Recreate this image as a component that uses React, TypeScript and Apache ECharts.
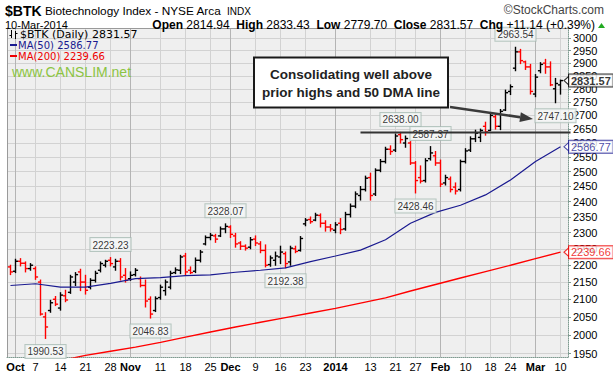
import React, { useEffect, useRef } from 'react';
import * as echarts from 'echarts';

const dates: string[] = [
  '2013-09-30', '2013-10-01', '2013-10-02', '2013-10-03', '2013-10-04', '2013-10-07', '2013-10-08', '2013-10-09', '2013-10-10', '2013-10-11',
  '2013-10-14', '2013-10-15', '2013-10-16', '2013-10-17', '2013-10-18', '2013-10-21', '2013-10-22', '2013-10-23', '2013-10-24', '2013-10-25',
  '2013-10-28', '2013-10-29', '2013-10-30', '2013-10-31', '2013-11-01', '2013-11-04', '2013-11-05', '2013-11-06', '2013-11-07', '2013-11-08',
  '2013-11-11', '2013-11-12', '2013-11-13', '2013-11-14', '2013-11-15', '2013-11-18', '2013-11-19', '2013-11-20', '2013-11-21', '2013-11-22',
  '2013-11-25', '2013-11-26', '2013-11-27', '2013-11-29', '2013-12-02', '2013-12-03', '2013-12-04', '2013-12-05', '2013-12-06', '2013-12-09',
  '2013-12-10', '2013-12-11', '2013-12-12', '2013-12-13', '2013-12-16', '2013-12-17', '2013-12-18', '2013-12-19', '2013-12-20', '2013-12-23',
  '2013-12-24', '2013-12-26', '2013-12-27', '2013-12-30', '2013-12-31', '2014-01-02', '2014-01-03', '2014-01-06', '2014-01-07', '2014-01-08',
  '2014-01-09', '2014-01-10', '2014-01-13', '2014-01-14', '2014-01-15', '2014-01-16', '2014-01-17', '2014-01-21', '2014-01-22', '2014-01-23',
  '2014-01-24', '2014-01-27', '2014-01-28', '2014-01-29', '2014-01-30', '2014-01-31', '2014-02-03', '2014-02-04', '2014-02-05', '2014-02-06',
  '2014-02-07', '2014-02-10', '2014-02-11', '2014-02-12', '2014-02-13', '2014-02-14', '2014-02-18', '2014-02-19', '2014-02-20', '2014-02-21',
  '2014-02-24', '2014-02-25', '2014-02-26', '2014-02-27', '2014-02-28', '2014-03-03', '2014-03-04', '2014-03-05', '2014-03-06', '2014-03-07',
  '2014-03-10',
];

const opens: number[] = [
  2195, 2182, 2212, 2206, 2190, 2190, 2150, 2050, 2068, 2100,
  2075, 2110, 2120, 2150, 2180, 2150, 2135, 2155, 2185, 2200,
  2215, 2195, 2212, 2170, 2160, 2172, 2160, 2140, 2100, 2068,
  2105, 2125, 2135, 2178, 2185, 2228, 2185, 2182, 2215, 2265,
  2285, 2290, 2290, 2312, 2318, 2290, 2268, 2258, 2255, 2280,
  2265, 2245, 2202, 2215, 2225, 2235, 2210, 2250, 2245, 2328,
  2342, 2340, 2355, 2330, 2318, 2308, 2330, 2312, 2358, 2385,
  2420, 2440, 2480, 2425, 2505, 2535, 2578, 2575, 2630, 2600,
  2600, 2530, 2480, 2470, 2545, 2555, 2530, 2462, 2475, 2448,
  2440, 2535, 2575, 2615, 2620, 2660, 2645, 2695, 2660, 2720,
  2790, 2880, 2945, 2905, 2885, 2780, 2870, 2900, 2885, 2800,
  2814.94,
];
const highs: number[] = [
  2200, 2218, 2220, 2210, 2205, 2195, 2156, 2062, 2097, 2108,
  2119, 2126, 2170, 2178, 2188, 2170, 2160, 2182, 2210, 2215,
  2223.23, 2218, 2220, 2190, 2180, 2190, 2165, 2156, 2107, 2107,
  2141, 2156, 2182, 2192, 2230, 2236, 2195, 2222, 2245, 2290,
  2298, 2295, 2318, 2328.07, 2322, 2298, 2272, 2262, 2285, 2290,
  2272, 2262, 2228, 2240, 2258, 2240, 2258, 2258, 2288, 2345,
  2350, 2362, 2360, 2338, 2326, 2332, 2345, 2365, 2392, 2432,
  2450, 2485, 2495, 2510, 2542, 2585, 2590, 2632, 2638.0, 2625,
  2605, 2535, 2520, 2545, 2587.37, 2570, 2540, 2488, 2482, 2462,
  2540, 2580, 2622, 2646, 2650, 2675, 2705, 2702, 2722, 2795,
  2815, 2963.54, 2955, 2908, 2895, 2855, 2902, 2915, 2905, 2840,
  2833.43,
];
const lows: number[] = [
  2172, 2178, 2198, 2180, 2185, 2158, 2055, 1990.53, 2063, 2082,
  2069, 2093, 2117, 2140, 2125, 2115, 2130, 2150, 2180, 2195,
  2198, 2185, 2156, 2150, 2155, 2168, 2136, 2078, 2046.83, 2065,
  2100, 2112, 2130, 2175, 2175, 2170, 2175, 2178, 2210, 2262,
  2278, 2270, 2288, 2300, 2285, 2255, 2248, 2246, 2250, 2260,
  2238, 2195, 2197, 2200, 2205, 2192.38, 2200, 2238, 2243, 2322,
  2330, 2338, 2318, 2305, 2305, 2300, 2297, 2308, 2350, 2380,
  2405, 2435, 2405, 2420, 2500, 2530, 2560, 2570, 2600, 2585,
  2525, 2428.46, 2462, 2465, 2540, 2522, 2450, 2455, 2432, 2425,
  2435, 2530, 2570, 2605, 2605, 2628, 2645, 2650, 2648, 2718,
  2778, 2870, 2898, 2875, 2780, 2770, 2862, 2860, 2812, 2747.10,
  2779.70,
];
const closes: number[] = [
  2180, 2212, 2206, 2190, 2200, 2165, 2058, 2022, 2090, 2086,
  2112, 2098, 2165, 2172, 2150, 2126, 2155, 2176, 2205, 2212,
  2205, 2212, 2165, 2155, 2170, 2185, 2140, 2095, 2058, 2102,
  2135, 2150, 2176, 2186, 2225, 2180, 2178, 2215, 2240, 2285,
  2292, 2280, 2312, 2320, 2295, 2265, 2258, 2252, 2278, 2268,
  2245, 2200, 2222, 2228, 2240, 2205, 2252, 2242, 2282, 2340,
  2335, 2356, 2330, 2318, 2312, 2325, 2310, 2358, 2385, 2425,
  2440, 2478, 2420, 2505, 2535, 2578, 2570, 2625, 2612, 2616,
  2530, 2470, 2468, 2538, 2565, 2530, 2458, 2480, 2440, 2435,
  2535, 2572, 2615, 2635, 2645, 2640, 2700, 2660, 2715, 2785,
  2808, 2945, 2910, 2885, 2790, 2845, 2895, 2885, 2815, 2820.43,
  2831.57,
];

const maDates: string[] = [
  '2013-09-30', '2013-10-07', '2013-10-14', '2013-10-21', '2013-10-28', '2013-11-04', '2013-11-11', '2013-11-18',
  '2013-11-25', '2013-12-03', '2013-12-10', '2013-12-17', '2013-12-24', '2014-01-02', '2014-01-09', '2014-01-16',
  '2014-01-24', '2014-01-31', '2014-02-07', '2014-02-14', '2014-02-24', '2014-03-03', '2014-03-10',
];
const ma50Values: number[] = [
  2140, 2145, 2135, 2135, 2146, 2160, 2163, 2169,
  2171, 2179, 2185, 2192, 2211, 2228, 2246, 2278,
  2330, 2365, 2388, 2422, 2472, 2535, 2586.77,
];
const ma200Values: number[] = [
  1904, 1918, 1931, 1945, 1956, 1967, 1980, 1994,
  2008, 2022, 2035, 2048, 2061, 2074, 2089, 2104,
  2124, 2143, 2162, 2181, 2200, 2220, 2239.66,
];

const tickDates: string[] = [
  '2013-10-01', '2013-10-07', '2013-10-14', '2013-10-21', '2013-10-28', '2013-11-01', '2013-11-11', '2013-11-18',
  '2013-11-25', '2013-12-02', '2013-12-09', '2013-12-16', '2013-12-23', '2014-01-02', '2014-01-13', '2014-01-21',
  '2014-01-27', '2014-02-03', '2014-02-10', '2014-02-18', '2014-02-24', '2014-03-03', '2014-03-10',
];
const tickTexts: string[] = [
  'Oct', '7', '14', '21', '28', 'Nov', '11', '18', '25', 'Dec', '9', '16', '23', '2014', '13', '21', '27', 'Feb', '10',
  '18', '24', 'Mar', '10',
];
const monthTickDates: string[] = ['2013-10-01', '2013-11-01', '2013-12-02', '2014-01-02', '2014-02-03', '2014-03-03'];

const yTicks: number[] = [
  1950, 2000, 2050, 2100, 2150, 2200, 2250, 2300, 2350, 2400, 2450,
  2500, 2550, 2600, 2650, 2700, 2750, 2800, 2850, 2900, 2950, 3000,
];

const peakDates: string[] = [
  '2013-10-09', '2013-10-28', '2013-11-07', '2013-11-29', '2013-12-17',
  '2014-01-22', '2014-01-27', '2014-01-30', '2014-02-25', '2014-03-07',
];
const peakKinds: string[] = ['low', 'high', 'low', 'high', 'low', 'high', 'low', 'high', 'high', 'low'];

const resistanceFrom = '2014-01-09';
const resistanceDate = '2014-01-22';

const FONT = '"Liberation Sans", Arial, sans-serif';
const VFONT = '"DejaVu Sans", Verdana, sans-serif';
const X_MIN = -0.7;
const X_MAX = 111.5;
const Y_MIN = 1940.7;
const Y_MAX = 3042.6;
const ln = Math.log;

const BLUE = '#1a1a90';
const RED = '#ee0000';

export default function App() {
  const ref = useRef<HTMLDivElement>(null);

  useEffect(() => {
    if (!ref.current) return;
    const chart = echarts.init(ref.current, null, { renderer: 'svg' });
    const n = dates.length;
    const last = n - 1;

    const ohlc = dates.map((_, i) => [
      i, ln(opens[i]), ln(highs[i]), ln(lows[i]), ln(closes[i]),
      (i === 0 ? closes[i] >= opens[i] : closes[i] >= closes[i - 1]) ? 1 : 0,
    ]);
    const tickIdx = tickDates.map((d) => dates.indexOf(d));
    const monthIdx = monthTickDates.map((d) => dates.indexOf(d));
    const yTickLn = yTicks.map((v) => ln(v));
    const maIdx = maDates.map((d) => dates.indexOf(d));
    const maLast = maIdx[maIdx.length - 1];

    const labelFor = (v: number) => {
      const k = tickIdx.findIndex((t) => Math.abs(t - v) < 0.01);
      if (k < 0) return '';
      const isMonth = monthIdx.includes(tickIdx[k]);
      return isMonth ? `{m|${tickTexts[k]}}` : `{d|${tickTexts[k]}}`;
    };

    const chg = closes[last] - closes[last - 1];
    const pct = (chg / closes[last - 1]) * 100;

    const boxLabel = {
      backgroundColor: '#f6f8f7',
      borderColor: '#a7bcb4',
      borderWidth: 1,
      padding: [2, 2, 1, 2],
      fontSize: 10,
      color: '#000',
      fontFamily: FONT,
      distance: 6,
    };

    const tagLabel = (text: string, color: string, bold: boolean) => ({
      show: true, position: 'right', distance: 8,
      formatter: () => text,
      fontWeight: bold ? 'bold' : 'normal', fontSize: 11, color, backgroundColor: '#fff',
      borderColor: color, borderWidth: 1, padding: [1, 2, 0, 2],
    });

    const option: any = {
      animation: false,
      textStyle: { fontFamily: FONT },
      grid: {
        left: 7, right: 45, top: 28, bottom: 16,
        show: true, backgroundColor: '#efefef', borderWidth: 0,
      },
      xAxis: [
        {
          type: 'value', min: X_MIN, max: X_MAX, position: 'bottom',
          axisLine: { show: true, onZero: false, lineStyle: { color: '#7f9a90', type: 'dotted', width: 1 } },
          axisTick: { show: false, customValues: tickIdx },
          axisLabel: {
            customValues: tickIdx, formatter: labelFor, margin: 4, color: '#000', fontSize: 11,
            rich: {
              m: { fontWeight: 'bold', fontSize: 11, color: '#000', fontFamily: FONT },
              d: { fontSize: 11, color: '#000', fontFamily: FONT },
            },
          },
          splitLine: { show: true, lineStyle: { color: '#d2d2d2', width: 1 } },
        },
        {
          type: 'value', min: X_MIN, max: X_MAX, position: 'top',
          axisLine: { show: true, onZero: false, lineStyle: { color: '#9a9a9a', width: 1 } },
          axisTick: { show: false, customValues: monthIdx },
          axisLabel: { show: false, customValues: monthIdx },
          splitLine: { show: true, lineStyle: { color: '#b4b4b4', width: 1 } },
        },
      ],
      yAxis: [
        {
          type: 'value', min: ln(Y_MIN), max: ln(Y_MAX), position: 'right',
          axisLine: { show: true, onZero: false, lineStyle: { color: '#7f9a90', type: 'dotted', width: 1 } },
          axisTick: { show: true, length: 3, customValues: yTickLn, lineStyle: { color: '#7f9a90' } },
          axisLabel: {
            customValues: yTickLn, margin: 5, fontSize: 11, color: '#000',
            formatter: (v: number) => String(Math.round(Math.exp(v))),
          },
          splitLine: { show: true, lineStyle: { color: '#d2d2d2', width: 1 } },
        },
        {
          type: 'value', min: ln(Y_MIN), max: ln(Y_MAX), position: 'left',
          axisLine: { show: true, onZero: false, lineStyle: { color: '#9a9a9a', width: 1 } },
          axisTick: { show: false }, axisLabel: { show: false }, splitLine: { show: false },
        },
      ],
      series: [
        {
          name: 'MA200', type: 'line', xAxisIndex: 0, yAxisIndex: 0,
          data: maIdx.map((i, k) => [i, ln(ma200Values[k])]),
          showSymbol: false, symbol: 'none',
          lineStyle: { color: '#ff0000', width: 1.4 },
        },
        {
          name: 'MA50', type: 'line', xAxisIndex: 0, yAxisIndex: 0,
          data: maIdx.map((i, k) => [i, ln(ma50Values[k])]),
          showSymbol: false, symbol: 'none',
          lineStyle: { color: BLUE, width: 1.2 },
        },
        {
          name: 'BTK', type: 'custom', xAxisIndex: 0, yAxisIndex: 0,
          encode: { x: 0, y: [1, 2, 3, 4] },
          data: ohlc,
          renderItem: (_p: any, api: any) => {
            const i = api.value(0);
            const pH = api.coord([i, api.value(2)]);
            const pL = api.coord([i, api.value(3)]);
            const pO = api.coord([i, api.value(1)]);
            const pC = api.coord([i, api.value(4)]);
            const color = api.value(5) ? '#000000' : '#ff0000';
            const x = pH[0];
            const st = { stroke: color, lineWidth: 1.4 };
            return {
              type: 'group',
              children: [
                { type: 'line', shape: { x1: x, y1: pH[1] - 0.5, x2: x, y2: pL[1] + 0.5 }, style: st },
                { type: 'line', shape: { x1: x - 2.6, y1: pO[1], x2: x, y2: pO[1] }, style: st },
                { type: 'line', shape: { x1: x, y1: pC[1], x2: x + 2.6, y2: pC[1] }, style: st },
              ],
            };
          },
        },
        {
          name: 'peaks', type: 'scatter', xAxisIndex: 0, yAxisIndex: 0,
          symbolSize: 1, itemStyle: { color: 'rgba(0,0,0,0)' }, silent: true, z: 5,
          data: peakDates.map((d, k) => {
            const i = dates.indexOf(d);
            const v = peakKinds[k] === 'high' ? highs[i] : lows[i];
            return { value: [i, ln(v), v], label: { position: peakKinds[k] === 'high' ? 'top' : 'bottom' } };
          }),
          label: { show: true, formatter: (p: any) => p.value[2].toFixed(2), ...boxLabel },
        },
        {
          name: 'tagPointers', type: 'scatter', xAxisIndex: 0, yAxisIndex: 0, silent: true, z: 6,
          symbol: 'triangle', symbolRotate: 90, symbolSize: [9, 5], symbolOffset: [6, 0],
          data: [
            { value: [maLast, ln(ma200Values[ma200Values.length - 1])], itemStyle: { color: '#fff', borderColor: RED, borderWidth: 1 } },
            { value: [maLast, ln(ma50Values[ma50Values.length - 1])], itemStyle: { color: '#fff', borderColor: BLUE, borderWidth: 1 } },
            { value: [last, ln(closes[last])], itemStyle: { color: '#fff', borderColor: '#000', borderWidth: 1 } },
          ],
        },
        {
          name: 'tags', type: 'scatter', xAxisIndex: 0, yAxisIndex: 0,
          symbolSize: 1, itemStyle: { color: 'rgba(0,0,0,0)' }, silent: true, z: 7,
          data: [
            { value: [maLast, ln(ma200Values[ma200Values.length - 1])], label: tagLabel(ma200Values[ma200Values.length - 1].toFixed(2), RED, false) },
            { value: [maLast, ln(ma50Values[ma50Values.length - 1])], label: tagLabel(ma50Values[ma50Values.length - 1].toFixed(2), BLUE, false) },
            { value: [last, ln(closes[last])], label: tagLabel(closes[last].toFixed(2), '#000', true) },
          ],
        },
      ],
    };

    chart.setOption(option);

    const ri = dates.indexOf(resistanceFrom);
    const rLevel = ln(highs[dates.indexOf(resistanceDate)]);
    const p1 = chart.convertToPixel({ xAxisIndex: 0, yAxisIndex: 0 }, [ri, rLevel]) as number[];
    const p2 = chart.convertToPixel({ xAxisIndex: 0, yAxisIndex: 0 }, [X_MAX + 0.5, rLevel]) as number[];

    const tipX = 533, tipY = 119, fromX = 450, fromY = 107;
    const dx = tipX - fromX, dy = tipY - fromY;
    const len = Math.sqrt(dx * dx + dy * dy);
    const ux = dx / len, uy = dy / len;
    const bx = tipX - 13 * ux, by = tipY - 13 * uy;
    const px = -uy, py = ux;

    const txt = (x: number, y: number, text: string, extra: any = {}) => ({
      type: 'text', x, y, z: 20,
      style: {
        text, fill: '#000', fontSize: 12, fontFamily: FONT,
        textAlign: 'left', textVerticalAlign: 'middle', align: 'left', verticalAlign: 'middle', ...extra,
      },
    });

    const elements: any[] = [
      txt(5, 11, '$BTK', { fontSize: 14, fontWeight: 'bold' }),
      txt(45, 11, 'Biotechnology Index - NYSE Arca', { fontSize: 11.8 }),
      txt(227, 11.5, 'INDX', { fontSize: 10 }),
      txt(604, 10, '\u00a9StockCharts.com', { fontSize: 12, fill: '#444', textAlign: 'right', align: 'right' }),
      txt(5, 25, '10-Mar-2014', { fontSize: 11 }),
      txt(595, 25,
        `{b|Open} ${opens[last].toFixed(2)}  {b|High} ${highs[last].toFixed(2)}  {b|Low} ${lows[last].toFixed(2)}  {b|Close} ${closes[last].toFixed(2)}  {b|Chg} ${chg >= 0 ? '+' : ''}${chg.toFixed(2)} (${pct >= 0 ? '+' : ''}${pct.toFixed(2)}%)`,
        { fontSize: 12, textAlign: 'right', align: 'right', rich: { b: { fontWeight: 'bold', fontSize: 12, fontFamily: FONT } } }),
      { type: 'polygon', z: 20, shape: { points: [[598, 28], [605, 28], [601.5, 23]] }, style: { fill: '#22aa22' } },
      // legend
      { type: 'line', z: 20, shape: { x1: 11.5, y1: 30, x2: 11.5, y2: 38 }, style: { stroke: '#000', lineWidth: 1 } },
      { type: 'line', z: 20, shape: { x1: 9.5, y1: 35.5, x2: 11.5, y2: 35.5 }, style: { stroke: '#000', lineWidth: 1 } },
      { type: 'line', z: 20, shape: { x1: 15.5, y1: 31, x2: 15.5, y2: 39 }, style: { stroke: '#000', lineWidth: 1 } },
      { type: 'line', z: 20, shape: { x1: 15.5, y1: 33.5, x2: 17.5, y2: 33.5 }, style: { stroke: '#000', lineWidth: 1 } },
      txt(20, 34, `$BTK (Daily) ${closes[last].toFixed(2)}`, { fontSize: 11, fontFamily: VFONT }),
      { type: 'rect', z: 20, shape: { x: 10, y: 44, width: 7, height: 2 }, style: { fill: BLUE } },
      txt(18, 45.5, `MA(50) ${ma50Values[ma50Values.length - 1].toFixed(2)}`, { fontSize: 10, fontFamily: VFONT, fill: BLUE }),
      { type: 'rect', z: 20, shape: { x: 10, y: 55, width: 7, height: 2 }, style: { fill: RED } },
      txt(18, 56.5, `MA(200) ${ma200Values[ma200Values.length - 1].toFixed(2)}`, { fontSize: 10, fontFamily: VFONT, fill: RED }),
      txt(12, 72, 'www.CANSLIM.net', { fontSize: 14, fill: '#8cc443' }),
      // resistance line
      { type: 'line', z: 15, shape: { x1: p1[0], y1: p1[1], x2: p2[0], y2: p2[1] }, style: { stroke: '#333', lineWidth: 2 } },
      // annotation box
      { type: 'rect', z: 18, shape: { x: 254, y: 57.5, width: 194, height: 50 }, style: { fill: '#fff', stroke: '#1a1a1a', lineWidth: 2 } },
      txt(351, 74.5, 'Consolidating well above', { fontSize: 13.5, fontWeight: 'bold', fill: '#222', textAlign: 'center', align: 'center' }),
      txt(351, 92, 'prior highs and 50 DMA line', { fontSize: 13.5, fontWeight: 'bold', fill: '#222', textAlign: 'center', align: 'center' }),
      // arrow
      { type: 'line', z: 18, shape: { x1: fromX, y1: fromY, x2: bx, y2: by }, style: { stroke: '#3a3a3a', lineWidth: 2.5 } },
      {
        type: 'polygon', z: 18,
        shape: { points: [[tipX, tipY], [bx + 5 * px, by + 5 * py], [bx - 5 * px, by - 5 * py]] },
        style: { fill: '#3a3a3a' },
      },
    ];

    chart.setOption({ graphic: { elements } });

    return () => chart.dispose();
  }, []);

  return <div ref={ref} style={{ position: 'absolute', left: 0, top: 0, width: 613, height: 373 }} />;
}
